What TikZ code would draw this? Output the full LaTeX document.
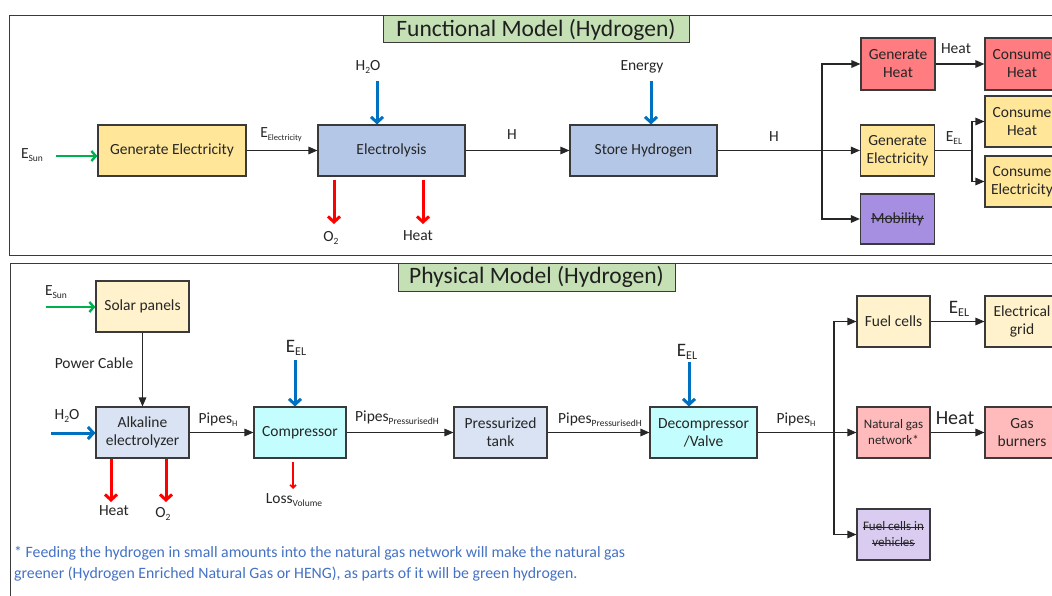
\documentclass[tikz,border=0pt]{standalone}
\usepackage{fontspec}
\setmainfont{Carlito}
\usetikzlibrary{arrows.meta}
\definecolor{ylw}{HTML}{FFE699}
\definecolor{lylw}{HTML}{FFF2CC}
\definecolor{blu}{HTML}{B4C7E7}
\definecolor{lblu}{HTML}{DAE3F3}
\definecolor{cyn}{HTML}{C4FDFD}
\definecolor{redA}{HTML}{FF7C80}
\definecolor{pnk}{HTML}{FFBBBB}
\definecolor{purA}{HTML}{A68FE0}
\definecolor{lav}{HTML}{D9CCF0}
\definecolor{ttl}{HTML}{C5E0B4}
\definecolor{arB}{HTML}{0070C0}
\definecolor{arR}{HTML}{FF0000}
\definecolor{arG}{HTML}{00B050}
\definecolor{note}{HTML}{4472C4}
\definecolor{edge}{HTML}{3A3A3A}
\newcommand\fsz[2]{\fontsize{#1}{#2}\selectfont}
\newcommand\sub[2][9.5]{\raisebox{-2.8pt}{\fontsize{#1}{#1}\selectfont #2}}
\newsavebox\strkbox
\newcommand\strk[1]{\sbox\strkbox{#1}\rlap{\raisebox{0.27em}{\rule{\wd\strkbox}{0.8pt}}}\usebox\strkbox}
\tikzset{
  bx/.style={draw=edge, line width=1.1pt, align=center, inner sep=1pt, font=\fsz{15.5}{18}, text=black!85},
  ttlbox/.style={draw=edge, fill=ttl, line width=1pt, inner sep=0pt, font=\fsz{23.5}{26}, text=black!88},
  lbl/.style={font=\fsz{15.5}{18}, text=black!85, inner sep=0pt},
  blk/.style={draw=black!85, line width=1.3pt, -{Triangle[length=9pt,width=7.5pt]}},
  bln/.style={draw=black!85, line width=1.3pt},
  carrow/.style={line width=3pt, -{Straight Barb[length=5.5pt,width=12pt]}},
  barr/.style={carrow, draw=arB},
  rarr/.style={carrow, draw=arR},
  garr/.style={line width=2.4pt, draw=arG, -{Straight Barb[length=4.5pt,width=10pt]}},
  rthin/.style={line width=1.6pt, draw=arR, -{Straight Barb[length=3pt,width=6pt]}},
  frame/.style={draw=edge, line width=1pt}
}
\begin{document}
\begin{tikzpicture}[x=1pt,y=-1pt]
\useasboundingbox (0,0) rectangle (1052,596);
\clip (0,0) rectangle (1052,596);
\fill[white] (0,0) rectangle (1052,596);
% frames
\draw[frame] (1070,16) -- (9,16) -- (9,255.5) -- (1070,255.5);
\draw[frame] (1070,263) -- (10,263) -- (10,610);
\node[ttlbox, minimum width=306, minimum height=27] (t1) at (536,29.5) {Functional Model (Hydrogen)};
\node[ttlbox, minimum width=277, minimum height=28] (t2) at (536.5,277) {Physical Model (Hydrogen)};

% ===== Functional model =====
\node[bx, fill=ylw, minimum width=148, minimum height=51] (geA) at (172,150.5) {Generate Electricity};
\node[bx, fill=blu, minimum width=147, minimum height=51] (ely) at (391.5,150.5) {Electrolysis};
\node[bx, fill=blu, minimum width=147, minimum height=51] (sto) at (643.5,150.5) {Store Hydrogen};
\node[bx, fill=redA, minimum width=74, minimum height=52] (gh) at (898,64) {Generate\\Heat};
\node[bx, fill=redA, minimum width=74, minimum height=52] (ch) at (1022,64) {Consume\\Heat};
\node[bx, fill=ylw, minimum width=74, minimum height=51] (ge2) at (897.5,150.5) {Generate\\Electricity};
\node[bx, fill=ylw, minimum width=74, minimum height=51] (ch2) at (1022,121.5) {Consume\\Heat};
\node[bx, fill=ylw, minimum width=74, minimum height=51] (ce) at (1022,181.5) {Consume\\Electricity};
\node[bx, fill=purA, minimum width=74, minimum height=50] (mob) at (897.5,219) {\strk{Mobility}};

\node[lbl] (lEsun) at (32,155) {E\sub{Sun}};
\coordinate (esunA) at (56,156);
\draw[garr] (esunA) -- (esunA -| geA.west);
\draw[blk] (geA.east) -- (ely.west);
\node[lbl] (lEel) at (281,135) {E\sub[8.5]{Electricity}};
\coordinate (h2oA) at (377,81);
\draw[barr] (h2oA) -- (h2oA |- ely.north);
\node[lbl] (lh2o) at (368,67) {H\sub{2}O};
\coordinate (o2A) at (334,224);
\draw[rarr] ([yshift=-3pt]ely.south -| o2A) -- (o2A);
\node[lbl] (lo2) at (331,238) {O\sub{2}};
\coordinate (htA) at (423,224);
\draw[rarr] ([yshift=-3pt]ely.south -| htA) -- (htA);
\node[lbl] (lht) at (418,236) {Heat};
\draw[blk] (ely.east) -- (sto.west);
\node[lbl] (lH1) at (512,135) {H};
\coordinate (enA) at (651,81);
\draw[barr] (enA) -- (enA |- sto.north);
\node[lbl] (len) at (642,67) {Energy};
\coordinate (br1) at (822,150.5);
\draw[bln] (sto.east) -- (br1);
\node[lbl] (lH2) at (774,137) {H};
\draw[blk] (br1) |- (gh.west);
\draw[blk] (br1) -- (ge2.west);
\draw[blk] (br1) |- (mob.west);
\draw[blk] (gh.east) -- (ch.west);
\node[lbl] (lht2) at (956,49) {Heat};
\coordinate (br2) at (972,150.5);
\draw[bln] (ge2.east) -- (br2);
\draw[blk] (br2) |- (ch2.west);
\draw[blk] (br2) |- (ce.west);
\node[lbl] (lEL1) at (954,138) {E\sub{EL}};

% ===== Physical model =====
\node[bx, fill=lylw, minimum width=93, minimum height=51] (sol) at (142.5,306.5) {Solar panels};
\node[bx, fill=lblu, minimum width=93, minimum height=51] (alk) at (142.5,432.5) {Alkaline\\electrolyzer};
\node[bx, fill=cyn, minimum width=92, minimum height=51] (comp) at (300,432.5) {Compressor};
\node[bx, fill=lblu, minimum width=93, minimum height=51] (tank) at (500.5,432.5) {Pressurized\\tank};
\node[bx, fill=cyn, minimum width=107, minimum height=51] (dec) at (703.5,432.5) {Decompressor\\/Valve};
\node[bx, fill=lylw, minimum width=73, minimum height=51] (fc) at (893.5,321.5) {Fuel cells};
\node[bx, fill=lylw, minimum width=74, minimum height=51] (grid) at (1022,321.5) {Electrical\\grid};
\node[bx, fill=pnk, minimum width=73, minimum height=51, font=\fsz{13}{16}] (ngn) at (893.5,432.5) {Natural gas\\network*};
\node[bx, fill=pnk, minimum width=74, minimum height=51] (burn) at (1022,432.5) {Gas\\burners};
\node[bx, fill=lav, minimum width=73, minimum height=51, font=\fsz{13}{16}] (fcv) at (893.5,534.5) {\strk{Fuel cells in}\\\strk{vehicles}};

\node[lbl] (lEsun2) at (56,292) {E\sub{Sun}};
\coordinate (esunB) at (46,307);
\draw[garr] (esunB) -- (esunB -| sol.west);
\draw[blk] (sol.south) -- (alk.north);
\node[lbl] (lpc) at (94,363) {Power Cable};
\node[lbl] (lh2o2) at (67,416) {H\sub{2}O};
\coordinate (h2oB) at (51,433);
\draw[barr] (h2oB) -- (h2oB -| alk.west);
\coordinate (htB) at (111,502);
\draw[rarr] (alk.south -| htB) -- (htB);
\node[lbl] (lht3) at (114,511) {Heat};
\coordinate (o2B) at (166,502);
\draw[rarr] (alk.south -| o2B) -- (o2B);
\node[lbl] (lo22) at (163,514) {O\sub{2}};
\draw[blk] (alk.east) -- (comp.west);
\node[lbl] (lpH1) at (218,420) {Pipes\sub[8.5]{H}};
\coordinate (elB) at (295,360);
\draw[barr] (elB) -- (elB |- comp.north);
\node[lbl, font=\fsz{19}{21}] (lEL2) at (296,348) {E\sub[12]{EL}};
\coordinate (lossB) at (293,489);
\draw[rthin] ([yshift=-3pt]comp.south -| lossB) -- (lossB);
\node[lbl] (lloss) at (294,500) {Loss\sub[9.5]{Volume}};
\draw[blk] (comp.east) -- (tank.west);
\node[lbl] (lpp1) at (397,418) {Pipes\sub[9.5]{PressurisedH}};
\draw[blk] (tank.east) -- (dec.west);
\node[lbl] (lpp2) at (600,420) {Pipes\sub[9.5]{PressurisedH}};
\coordinate (elC) at (689,362);
\draw[barr] (elC) -- (elC |- dec.north);
\node[lbl, font=\fsz{19}{21}] (lEL3) at (687,352) {E\sub[12]{EL}};
\coordinate (br3) at (834,432.5);
\draw[bln] (dec.east) -- (br3);
\node[lbl] (lpH2) at (796,420) {Pipes\sub[8.5]{H}};
\draw[blk] (br3) |- (fc.west);
\draw[blk] (br3) -- (ngn.west);
\draw[blk] (br3) |- (fcv.west);
\draw[blk] (fc.east) -- (grid.west);
\node[lbl, font=\fsz{19}{21}] (lEL4) at (959,309) {E\sub[12]{EL}};
\draw[blk] (ngn.east) -- (burn.west);
\node[lbl, font=\fsz{20}{22}] (lht4) at (955,418) {Heat};

\node[anchor=west, align=left, inner sep=0pt, text=note, font=\fsz{15.8}{21}] (foot) at (14,563.5)
  {* Feeding the hydrogen in small amounts into the natural gas network will make the natural gas\\
   greener (Hydrogen Enriched Natural Gas or HENG), as parts of it will be green hydrogen.};
\end{tikzpicture}
\end{document}
